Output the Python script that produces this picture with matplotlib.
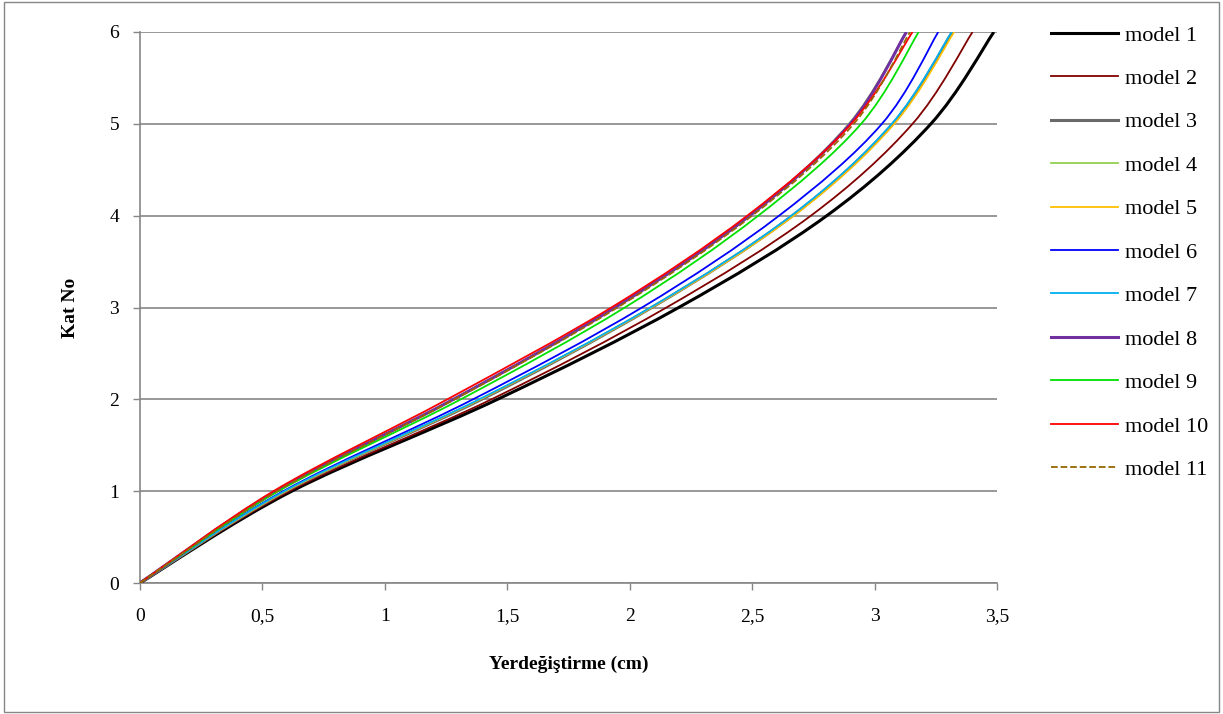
import matplotlib
matplotlib.use("Agg")
import matplotlib.pyplot as plt
from matplotlib.path import Path
from matplotlib.patches import PathPatch, Rectangle
from matplotlib.lines import Line2D
import numpy as np

plt.rcParams['font.family'] = ['Liberation Serif', 'DejaVu Serif']

floors = [0, 1, 2, 3, 4, 5, 6]
model_names = ["model 1", "model 2", "model 3", "model 4", "model 5", "model 6",
               "model 7", "model 8", "model 9", "model 10", "model 11"]

m1 = [0, 0.62, 1.46, 2.20, 2.805, 3.23, 3.487]
m2 = [0, 0.61, 1.435, 2.15, 2.74, 3.155, 3.40]
m3 = [0, 0.595, 1.395, 2.09, 2.665, 3.075, 3.318]
m4 = [0, 0.555, 1.28, 1.94, 2.49, 2.895, 3.13]
m5 = [0, 0.595, 1.39, 2.09, 2.67, 3.08, 3.325]
m6 = [0, 0.585, 1.36, 2.05, 2.61, 3.03, 3.26]
m7 = [0, 0.59, 1.385, 2.085, 2.66, 3.07, 3.315]
m8 = [0, 0.555, 1.28, 1.94, 2.49, 2.90, 3.13]
m9 = [0, 0.565, 1.31, 1.98, 2.525, 2.945, 3.18]
m10 = [0, 0.545, 1.255, 1.925, 2.48, 2.905, 3.155]
m11 = [0, 0.56, 1.285, 1.95, 2.50, 2.915, 3.145]

series = [m1, m2, m3, m4, m5, m6, m7, m8, m9, m10, m11]
colors = ["#000000", "#800000", "#696969", "#92D050", "#FFC000", "#0000FF",
          "#00B0F0", "#7030A0", "#00E000", "#FF0000", "#996600"]
widths = [2.2, 1.3, 2.2, 1.3, 1.3, 1.3, 1.3, 2.2, 1.3, 1.3, 1.3]
styles = ["-"] * 10 + ["--"]


def smooth_path(xs, ys):
    P = np.column_stack([xs, ys]).astype(float)
    n = len(P)
    verts = [P[0]]
    codes = [Path.MOVETO]
    for i in range(n - 1):
        p0 = P[i - 1] if i > 0 else P[i]
        p1 = P[i]
        p2 = P[i + 1]
        p3 = P[i + 2] if i + 2 < n else P[i + 1]
        c1 = p1 + (p2 - p0) / 6.0
        c2 = p2 - (p3 - p1) / 6.0
        verts += [c1, c2, p2]
        codes += [Path.CURVE4] * 3
    return Path(verts, codes)


fig = plt.figure(figsize=(12.23, 7.14), dpi=100)
ax = fig.add_axes([140 / 1223, 1 - 583 / 714, (997 - 140) / 1223, (583 - 32) / 714])

ax.set_xlim(0, 3.5)
ax.set_ylim(0, 6)
ax.set_yticks(floors)
xt = [0, 0.5, 1, 1.5, 2, 2.5, 3, 3.5]
ax.set_xticks(xt)
ax.set_xticklabels([("%g" % v).replace(".", ",") for v in xt], fontsize=14)
ax.set_yticklabels([str(v) for v in floors], fontsize=14)
ax.grid(axis='y', color='#868686', linewidth=1.2)
ax.set_axisbelow(True)
for s in ['top', 'right']:
    ax.spines[s].set_visible(False)
for s in ['left', 'bottom']:
    ax.spines[s].set_color('#868686')
    ax.spines[s].set_linewidth(1.2)
ax.tick_params(axis='both', colors='#868686', length=5, width=1.0, labelcolor='black')
ax.tick_params(axis='x', pad=13)
ax.tick_params(axis='y', pad=10)

handles = []
for xs, c, lw, ls, name in zip(series, colors, widths, styles, model_names):
    patch = PathPatch(smooth_path(xs, floors), facecolor='none', edgecolor=c,
                      linewidth=lw, linestyle=ls, zorder=3, clip_on=True)
    ax.add_patch(patch)
    handles.append(Line2D([], [], color=c, lw=lw, ls=ls, label=name))

ax.set_xlabel("Yerdeğiştirme (cm)", fontsize=14, fontweight='bold', labelpad=22)
ax.set_ylabel("Kat No", fontsize=14, fontweight='bold', labelpad=22)

fig.legend(handles=handles, loc='upper left', bbox_to_anchor=(1031 / 1223, 1 - 5 / 714),
           frameon=False, fontsize=16, handlelength=3.0, labelspacing=1.03,
           handletextpad=0.35)

fig.patches.append(Rectangle((4 / 1223, 2 / 714), 1 - 8 / 1223, 1 - 4 / 714,
                             transform=fig.transFigure, fill=False,
                             edgecolor='#868686', linewidth=1.0))

fig.savefig("out.png", dpi=100)
